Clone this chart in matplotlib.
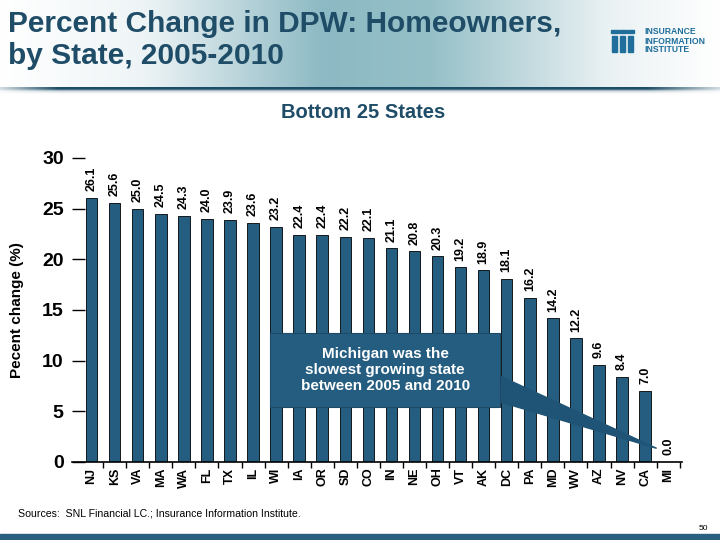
import matplotlib
matplotlib.use("Agg")
import matplotlib.pyplot as plt
import numpy as np
from matplotlib.patches import Rectangle, Polygon

plt.rcParams['font.family'] = ['Liberation Sans', 'DejaVu Sans']

states = ["NJ", "KS", "VA", "MA", "WA", "FL", "TX", "IL", "WI", "IA", "OR", "SD", "CO",
          "IN", "NE", "OH", "VT", "AK", "DC", "PA", "MD", "WV", "AZ", "NV", "CA", "MI"]
pct_change = [26.1, 25.6, 25.0, 24.5, 24.3, 24.0, 23.9, 23.6, 23.2, 22.4, 22.4, 22.2, 22.1,
              21.1, 20.8, 20.3, 19.2, 18.9, 18.1, 16.2, 14.2, 12.2, 9.6, 8.4, 7.0, 0.0]
y_ticks = [0, 5, 10, 15, 20, 25, 30]

bar_color = '#255d80'
title_color = '#1f4d68'

fig = plt.figure(figsize=(7.2, 5.4), dpi=100)

# header gradient band
hdr = fig.add_axes([0, 1 - 88 / 540, 1, 88 / 540])
xs = np.linspace(0, 1, 400)
stops_x = [0.0, 0.2, 0.45, 0.6, 0.85, 1.0]
stops_c = np.array([[255, 255, 255], [238, 244, 246], [140, 185, 195],
                    [150, 192, 200], [235, 242, 244], [255, 255, 255]]) / 255.0
grad = np.stack([np.interp(xs, stops_x, stops_c[:, k]) for k in range(3)], axis=-1)
hdr.imshow(grad[None, :, :], aspect='auto', extent=[0, 1, 0, 1])
hdr.set_axis_off()

# dark rule under the header, fading at the ends
rule = fig.add_axes([0, 1 - 94 / 540, 1, 7 / 540])
alpha = np.interp(xs, [0, 0.08, 0.9, 1.0], [0.2, 1, 1, 0.2])
rimg = np.zeros((7, 400, 4))
rimg[..., :3] = np.array([29, 77, 102]) / 255.0
for r, a in enumerate([1, 1, 0.8, 0.4, 0.2, 0.1, 0.04]):
    rimg[r, :, 3] = alpha * a
rule.imshow(rimg, aspect='auto', extent=[0, 1, 0, 1])
rule.set_axis_off()

fig.text(8 / 720, 1 - 40 / 540, "Percent Change in DPW: Homeowners,\nby State, 2005-2010",
         fontsize=21.5, fontweight='bold', color=title_color, ha='left', va='center',
         linespacing=1.2)

# logo
logo_c = '#1f6e9c'
for x0 in [612, 620, 628]:
    fig.patches.append(Rectangle((x0 / 720, 1 - 52 / 540), 5 / 720, 16 / 540,
                                 transform=fig.transFigure, color=logo_c))
    fig.patches.append(Rectangle(((x0 - 1) / 720, 1 - 33 / 540), 7 / 720, 3 / 540,
                                 transform=fig.transFigure, color=logo_c))
fig.text(644 / 720, 1 - 41 / 540, "INSURANCE\nINFORMATION\nINSTITUTE", fontsize=6.2,
         fontweight='bold', color=logo_c, ha='left', va='center', linespacing=1.0)

fig.text(363 / 720, 1 - 112 / 540, "Bottom 25 States", fontsize=14.5, fontweight='bold',
         color=title_color, ha='center', va='center')

# main chart
ax = fig.add_axes([72 / 720, 78 / 540, 610 / 720, 304 / 540])
x = np.arange(len(states))
ax.bar(x, pct_change, width=0.5, color=bar_color, edgecolor='black', linewidth=0.6, zorder=2)
for xi, v in zip(x, pct_change):
    ax.text(xi, v + 0.65, "%.1f" % v, rotation=90, ha='center', va='bottom',
            fontsize=9, fontweight='bold', clip_on=False)

ax.set_xlim(-0.85, 25.6)
ax.set_ylim(0, 30)
ax.set_yticks(y_ticks)
ax.set_yticklabels([str(t) for t in y_ticks], fontsize=14, fontweight='bold')
ax.tick_params(axis='y', direction='in', length=9, width=1, pad=6, left=True)
ax.set_xticks(x)
ax.set_xticklabels(states, rotation=90, fontsize=9, fontweight='bold')
ax.set_xticks(x + 0.5, minor=True)
ax.tick_params(axis='x', which='major', length=0, pad=4)
ax.tick_params(axis='x', which='minor', direction='out', length=4, width=1)
for s in ['top', 'right', 'left']:
    ax.spines[s].set_visible(False)
ax.spines['bottom'].set_linewidth(1.2)
ax.set_ylabel("Pecent change (%)", fontsize=11, fontweight='bold')
ax.yaxis.set_label_coords(-0.078, 0.5)

# callout box pointing to MI
bx0, bx1, by0, by1 = 7.75, 17.7, 5.4, 12.75
ax.add_patch(Polygon([(bx1 - 0.1, 8.6), (24.5, 1.35), (bx1 - 0.1, 6.0)],
                     closed=True, color='#1f5476', zorder=3))
ax.add_patch(Rectangle((bx0, by0), bx1 - bx0, by1 - by0, facecolor=bar_color,
                       edgecolor='#1d4a66', linewidth=0.8, zorder=4))
ax.text((bx0 + bx1) / 2, (by0 + by1) / 2, "Michigan was the\nslowest growing state\nbetween 2005 and 2010",
        ha='center', va='center', color='white', fontsize=11, fontweight='bold',
        linespacing=1.15, zorder=5)

# footer
fig.text(18 / 720, 1 - 513 / 540, "Sources:  SNL Financial LC.; Insurance Information Institute.",
         fontsize=7.6, ha='left', va='center')
fig.text(708 / 720, 1 - 528 / 540, "50", fontsize=6, ha='right', va='center')
fig.patches.append(Rectangle((0, 0), 1, 6 / 540, transform=fig.transFigure, color='#2a5f7f'))

fig.savefig("out.png", dpi=100)
